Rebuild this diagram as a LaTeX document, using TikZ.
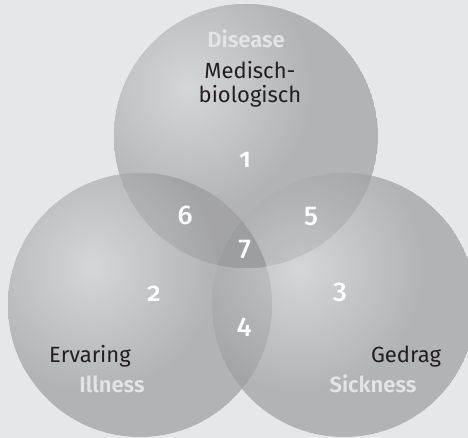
\documentclass[tikz,border=0pt]{standalone}
\usepackage{fontspec}
\setmainfont{Fira Sans}
\newfontfamily\numfont{Fira Sans Medium}[Numbers=OldStyle]
\newfontfamily\engfont{Fira Sans SemiBold}
\definecolor{bgcol}{HTML}{E6E7E8}
\definecolor{circcol}{HTML}{B2B3B5}
\definecolor{glowcol}{HTML}{D5D6D8}
\definecolor{midcol}{HTML}{9D9EA0}
\definecolor{engcol}{HTML}{E3E4E5}
\definecolor{txtcol}{HTML}{231F20}
\tikzset{
  nltext/.style={font=\fontsize{22}{22}\selectfont, text=txtcol, inner sep=0pt, anchor=base},
  entext/.style={font=\engfont\fontsize{22}{22}\selectfont, text=engcol, inner sep=0pt, anchor=base},
  num/.style={font=\numfont\fontsize{27}{27}\selectfont, text=white, inner sep=0pt, anchor=base},
  lens/.style={fill=black, opacity=.08},
}

\begin{document}
\begin{tikzpicture}[x=1pt,y=-1pt]
    % 背景
    \fill[bgcol] (0,0) rectangle (468,438);
    \useasboundingbox (0,0) rectangle (468,438);

    % 三个圆, 各带一处高光
    \foreach \cx/\cy/\hx/\hy in {246/136/188/88, 140/305/93/267, 344/305/300/268} {
        \begin{scope}
            \clip (\cx,\cy) circle (132);
            \fill[circcol] (\cx,\cy) circle (132);
            \shade[inner color=glowcol, outer color=circcol] (\hx,\hy) circle (125);
        \end{scope}
    }

    % 两两重叠
    \begin{scope}
        \clip (246,136) circle (132);
        \fill[lens] (140,305) circle (132);
        \fill[lens] (344,305) circle (132);
    \end{scope}
    \begin{scope}
        \clip (140,305) circle (132);
        \fill[lens] (344,305) circle (132);
    \end{scope}

    % 三者重叠
    \begin{scope}
        \clip (246,136) circle (132);
        \clip (140,305) circle (132);
        \fill[midcol] (344,305) circle (132);
    \end{scope}

    % 文字
    \node[entext] (disease) at (246,48) {Disease};
    \node[nltext] (medisch) at (250,79) {Medisch-};
    \node[nltext] (biologisch) at (250,103) {biologisch};
    \node[nltext] (ervaring) at (90,362) {Ervaring};
    \node[entext] (illness) at (112,392) {Illness};
    \node[nltext] (gedrag) at (406,362) {Gedrag};
    \node[entext] (sickness) at (373,392) {Sickness};

    % 区域编号
    \node[num] (n1) at (245,168) {1};
    \node[num] (n2) at (154,301) {2};
    \node[num] (n3) at (340,298) {3};
    \node[num] (n4) at (244,333) {4};
    \node[num] (n5) at (311,223) {5};
    \node[num] (n6) at (185,225) {6};
    \node[num] (n7) at (245,255) {7};
\end{tikzpicture}
\end{document}
